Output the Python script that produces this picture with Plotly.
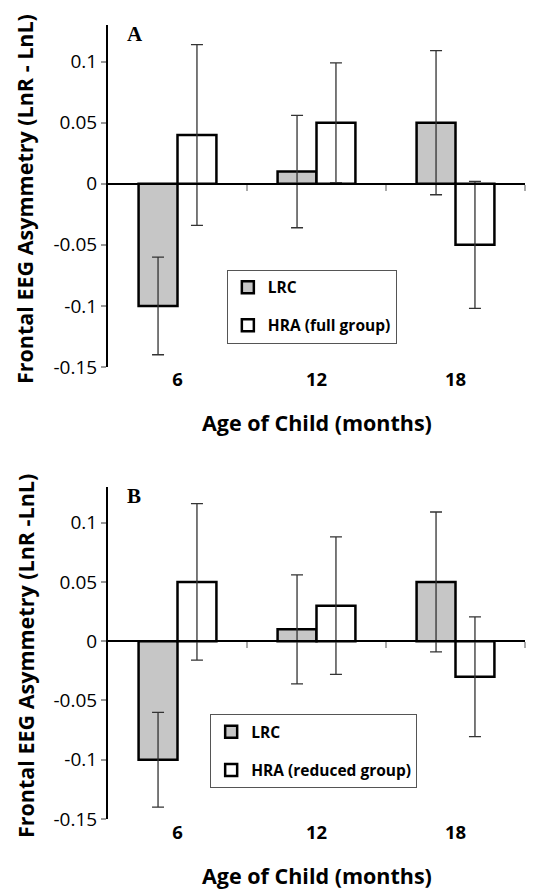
import plotly.graph_objects as go

categories = ["6", "12", "18"]
lrc_a = [-0.10, 0.01, 0.05]
lrc_a_err = [0.040, 0.046, 0.059]
hra_a = [0.04, 0.05, -0.05]
hra_a_err = [0.074, 0.049, 0.052]

lrc_b = [-0.10, 0.01, 0.05]
lrc_b_err = [0.040, 0.046, 0.059]
hra_b = [0.05, 0.03, -0.03]
hra_b_err = [0.066, 0.058, 0.0505]

ytick_vals = [0.1, 0.05, 0, -0.05, -0.1, -0.15]
ytick_text = ["0.1", "0.05", "0", "-0.05", "-0.1", "-0.15"]

y_range = [-0.15, 0.13]
pos = list(range(len(categories)))
boundaries = [p + 0.5 for p in pos]

# page body has an 8px margin, so the figure is a bit smaller than the window
W, H = 531, 883
ml, mr, mt, mb = 100, 14, 17, 72
dom_a = [0.5693, 1.0]
dom_b = [0.0, 0.418]

def zero_pos(dom):
    frac = (0 - y_range[0]) / (y_range[1] - y_range[0])
    return dom[0] + frac * (dom[1] - dom[0])

font_fam = "Open Sans"
err_style = dict(type="data", color="#333333", thickness=1.3, width=6, visible=True)

fig = go.Figure()

def add_panel(xa, ya, za, lrc, lrc_err, hra, hra_err, legend, hra_name):
    fig.add_trace(go.Bar(
        x=pos, y=lrc, name="LRC", xaxis=xa, yaxis=ya, legend=legend,
        legendgroup=legend + "a",
        marker=dict(color="#c6c6c6", line=dict(color="black", width=2.5)),
        error_y=dict(array=lrc_err, **err_style),
    ))
    fig.add_trace(go.Bar(
        x=pos, y=hra, name=hra_name, xaxis=xa, yaxis=ya, legend=legend,
        legendgroup=legend + "b",
        marker=dict(color="white", line=dict(color="black", width=2.5)),
        error_y=dict(array=hra_err, **err_style),
    ))
    # invisible helper trace so the zero-crossing axis is drawn
    fig.add_trace(go.Scatter(
        x=pos, y=lrc, xaxis=za, yaxis=ya, mode="markers",
        marker=dict(opacity=0), showlegend=False, hoverinfo="skip",
    ))

add_panel("x", "y", "x3", lrc_a, lrc_a_err, hra_a, hra_a_err, "legend", "HRA (full group)")
add_panel("x2", "y2", "x4", lrc_b, lrc_b_err, hra_b, hra_b_err, "legend2", "HRA (reduced group)")

xcommon = dict(range=[-0.5, len(categories) - 0.5], tickvals=pos, ticktext=categories,
               showline=False, ticks="", showgrid=False, zeroline=False,
               tickfont=dict(family=font_fam, size=18.5, color="black", weight="bold"))
ycommon = dict(range=y_range, tickvals=ytick_vals, ticktext=ytick_text,
               showline=True, linecolor="black", linewidth=2, ticks="outside",
               ticklen=5, tickwidth=1.5, tickcolor="#999999", showgrid=False,
               zeroline=False, tickfont=dict(family=font_fam, size=19, color="black"))
zcommon = dict(range=[-0.5, len(categories) - 0.5], tickvals=boundaries,
               showticklabels=False, showline=True, linecolor="black", linewidth=2,
               ticks="outside", ticklen=6, tickwidth=1.5, tickcolor="#aaaaaa",
               showgrid=False, zeroline=False, anchor="free")

leg_common = dict(bgcolor="white", bordercolor="#555555", borderwidth=1,
                  font=dict(family=font_fam, size=15.5, color="black", weight="bold"),
                  tracegroupgap=15, xanchor="left", yanchor="top")

fig.update_layout(
    width=W, height=H, margin=dict(l=ml, r=mr, t=mt, b=mb),
    paper_bgcolor="white", plot_bgcolor="white",
    barmode="group", bargap=0.44, bargroupgap=0,
    xaxis=dict(domain=[0, 1], anchor="y", **xcommon),
    yaxis=dict(domain=dom_a, anchor="x", **ycommon),
    xaxis2=dict(domain=[0, 1], anchor="y2", **xcommon),
    yaxis2=dict(domain=dom_b, anchor="x2", **ycommon),
    xaxis3=dict(overlaying="x", position=zero_pos(dom_a), **zcommon),
    xaxis4=dict(overlaying="x2", position=zero_pos(dom_b), **zcommon),
    legend=dict(x=0.285, y=0.692, **leg_common),
    legend2=dict(x=0.245, y=0.132, **leg_common),
    showlegend=True,
)

title_font = dict(family=font_fam, size=21.5, color="black", weight="bold")
for ya, letter, dom in [("y", "A", dom_a), ("y2", "B", dom_b)]:
    xa = "x" if ya == "y" else "x2"
    fig.add_annotation(text="Age of Child (months)", xref=xa + " domain", yref=ya + " domain",
                       x=0.5, y=0, yshift=-56, showarrow=False, font=title_font,
                       xanchor="center", yanchor="middle")
    ytxt = "Frontal EEG Asymmetry (LnR - LnL)" if letter == "A" else "Frontal EEG Asymmetry (LnR -LnL)"
    fig.add_annotation(text=ytxt, xref="paper", yref=ya + " domain",
                       x=-0.199, y=0.5, yshift=-3, textangle=-90, showarrow=False, font=title_font,
                       xanchor="center", yanchor="middle")
    fig.add_annotation(text=letter, xref="paper", yref=ya + " domain",
                       x=0.04, y=1, yshift=-9, showarrow=False, xanchor="left", yanchor="middle",
                       font=dict(family="Liberation Serif", size=21, color="black", weight="bold"))

fig.write_html("out.html")
